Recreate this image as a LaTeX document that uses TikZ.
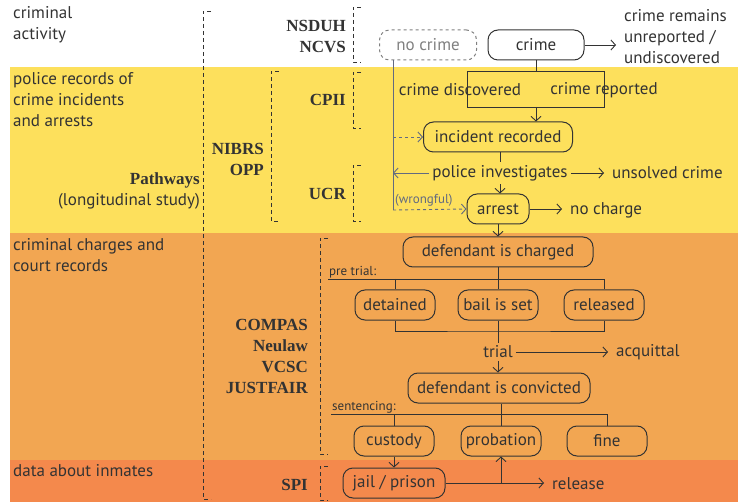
\documentclass[tikz,border=0pt]{standalone}
\usepackage{fontspec}
\setmainfont{PT Sans}
\newfontfamily\sourcefont{Liberation Serif}
\usetikzlibrary{positioning,arrows.meta}

\definecolor{bandyellow}{RGB}{253,224,92}
\definecolor{bandorange}{RGB}{242,166,82}
\definecolor{banddark}{RGB}{244,137,76}
\definecolor{ink}{RGB}{51,51,51}
\definecolor{wrongink}{RGB}{98,106,128}

\tikzset{
  stage/.style={draw=ink, text=ink, line width=1pt, rounded corners=10pt,
    minimum height=30pt, inner sep=0pt},
  shortstage/.style={stage, minimum width=80pt},
  label/.style={text=ink, inner sep=3pt},
  smalllabel/.style={text=ink, inner sep=1pt, font=\fontsize{13}{15}\selectfont},
  flow/.style={draw=ink, line width=0.9pt},
  flowarrow/.style={flow, -{Straight Barb[length=4.5pt,width=10pt]}},
  totext/.style={shorten >=5pt},
  wrong/.style={draw=wrongink, line width=0.9pt},
  wrongarrow/.style={wrong, -{Straight Barb[length=4.5pt,width=10pt]}},
  source/.style={text=ink, anchor=east, align=right, inner sep=0pt,
    font=\sourcefont\bfseries\fontsize{17}{21}\selectfont},
  bracket/.style={draw=ink, line width=0.9pt, dash pattern=on 4pt off 3pt},
  bandlabel/.style={text=ink, anchor=north west, align=left, inner sep=0pt}
}

\begin{document}
\begin{tikzpicture}[x=1pt, y=-1pt, font=\fontsize{17}{21}\selectfont]

          \useasboundingbox (0,0) rectangle (738,502);

          % bands
          \fill[bandyellow] (10,67) rectangle (738,233);
          \fill[bandorange] (10,233) rectangle (738,460);
          \fill[banddark] (10,460) rectangle (738,502);

          \node[bandlabel] (activity) at (13,6) {criminal\\activity};
          \node[bandlabel] (police) at (13,72) {police records of\\crime incidents\\and arrests};
          \node[bandlabel] (court) at (13,238) {criminal charges and\\court records};
          \node[bandlabel] (inmates) at (13,464) {data about inmates};

          % data sources
          \node[source] (nsduh) at (346,37) {NSDUH\\NCVS};
          \node[source] (cpii) at (346,100) {CPII};
          \node[source] (nibrs) at (264,159) {NIBRS\\OPP};
          \node[source] (ucr) at (346,194) {UCR};
          \node[source] (pathways) at (200,191)
              {Pathways\\{\rmfamily\mdseries\fontsize{17}{21}\selectfont (longitudinal study)}};
          \node[source] (compas) at (308,356) {COMPAS\\Neulaw\\VCSC\\JUSTFAIR};
          \node[source] (spi) at (308,485) {SPI};

          \draw[bracket] (211,11) -- (203,11) -- (203,499) -- (211,499);
          \draw[bracket] (361,7) -- (353,7) -- (353,62) -- (361,62);
          \draw[bracket] (361,72) -- (353,72) -- (353,128) -- (361,128);
          \draw[bracket] (279,71) -- (271,71) -- (271,221) -- (279,221);
          \draw[bracket] (361,165) -- (353,165) -- (353,221) -- (361,221);
          \draw[bracket] (328,238) -- (320,238) -- (320,454) -- (328,454);
          \draw[bracket] (328,466) -- (320,466) -- (320,500) -- (328,500);

          % criminal activity
          \node[stage, minimum width=97pt, dashed, draw=gray, text=gray] (nocrime) at (428,45) {no crime};
          \node[stage, minimum width=96pt] (crime) at (536,45) {crime};
          \node[label, anchor=west, align=left] (unreported) at (621,37) {crime remains\\unreported /\\undiscovered};
          \draw[flowarrow, totext] (crime.east) -- (unreported.west |- crime.east);

          % crime discovered or reported
          \coordinate (reportNW) at (467,71);
          \coordinate (reportNE) at (604,71);
          \coordinate (reportSW) at (467,107);
          \coordinate (reportSE) at (604,107);
          \draw[flow] (crime.south) -- (crime.south |- reportNW);
          \draw[flow] (reportNW) -- (reportNE) -- (reportSE) -- (reportSW) -- cycle;
          \node[label] (discovered) at (460,90) {crime discovered};
          \node[label] (reported) at (604,90) {crime reported};

          % police
          \node[stage, minimum width=149pt] (incident) at (498,137) {incident recorded};
          \draw[flowarrow] (crime.south |- reportSW) -- (crime.south |- incident.north);
          \node[label] (investigates) at (500,173) {police investigates};
          \node[label, anchor=west] (unsolved) at (609,173) {unsolved crime};
          \node[stage, minimum width=62pt] (arrest) at (498,209) {arrest};
          \node[label, anchor=west] (nocharge) at (567,210) {no charge};
          \draw[flow] (incident.south -| investigates.north) -- (investigates.north);
          \draw[flowarrow] (investigates.south) -- (arrest.north -| investigates.south);
          \draw[flowarrow, totext] (investigates.east) -- (unsolved.west);
          \draw[flowarrow, totext] (arrest.east) -- (arrest.east -| nocharge.west);

          % no crime, but recorded or arrested
          \coordinate (wrongtop) at (393,60);
          \coordinate (wrongbottom) at (393,210);
          \draw[wrong] (wrongtop |- nocrime.south) -- (wrongbottom);
          \draw[wrongarrow, dashed] (wrongtop |- incident.west) -- (incident.west);
          \draw[wrongarrow, dashed] (wrongbottom) -- (arrest.west);
          \draw[wrongarrow] (investigates.west) -- (wrongtop |- investigates.west);
          \node[smalllabel, text=wrongink, anchor=south west] (wrongful) at (394,208) {(wrongful)};

          % court
          \node[stage, minimum width=190pt] (charged) at (498,252) {defendant is charged};
          \draw[flowarrow] (arrest.south) -- (charged.north);
          \node[shortstage] (detained) at (395,305) {detained};
          \node[shortstage] (bail) at (498,305) {bail is set};
          \node[shortstage] (released) at (604,305) {released};
          \coordinate (pretrialW) at (328,279);
          \coordinate (pretrialjoin) at (498,331);
          \node[smalllabel, anchor=south west] (pretrial) at (pretrialW) {pre trial:};
          \draw[flow] (charged.south) -- (charged.south |- pretrialW);
          \draw[flow] (pretrialW) -| (released.north);
          \draw[flow] (detained.north |- pretrialW) -- (detained.north);
          \draw[flow] (bail.north |- pretrialW) -- (bail.north);
          \draw[flow] (detained.south) |- (pretrialjoin) -| (released.south);

          \node[label] (trial) at (498,352) {trial};
          \node[label, anchor=west] (acquittal) at (613,352) {acquittal};
          \draw[flow] (bail.south) -- (trial.north);
          \draw[flowarrow, totext] (trial.east) -- (acquittal.west);

          \node[stage, minimum width=182pt] (convicted) at (499,388) {defendant is convicted};
          \draw[flowarrow] (trial.south) -- (trial.south |- convicted.north);
          \node[shortstage] (custody) at (394,441) {custody};
          \node[shortstage] (probation) at (501,441) {probation};
          \node[shortstage] (fine) at (607,441) {fine};
          \coordinate (sentencingW) at (331,414);
          \node[smalllabel, anchor=south west] (sentencing) at (sentencingW) {sentencing:};
          \draw[flow] (convicted.south -| probation.north) -- (probation.north |- sentencingW);
          \draw[flow] (sentencingW) -| (fine.north);
          \draw[flow] (custody.north |- sentencingW) -- (custody.north);
          \draw[flow] (probation.north |- sentencingW) -- (probation.north);

          % inmates
          \node[stage, minimum width=102pt] (jail) at (394,483) {jail / prison};
          \node[label, anchor=west] (release) at (549,484) {release};
          \draw[flowarrow] (custody.south) -- (jail.north);
          \draw[flow] (jail.east) -- (jail.east -| probation.south);
          \draw[flowarrow] (jail.east -| probation.south) -- (probation.south);
          \draw[flowarrow, totext] (jail.east) -- (jail.east -| release.west);

        \end{tikzpicture}
\end{document}
